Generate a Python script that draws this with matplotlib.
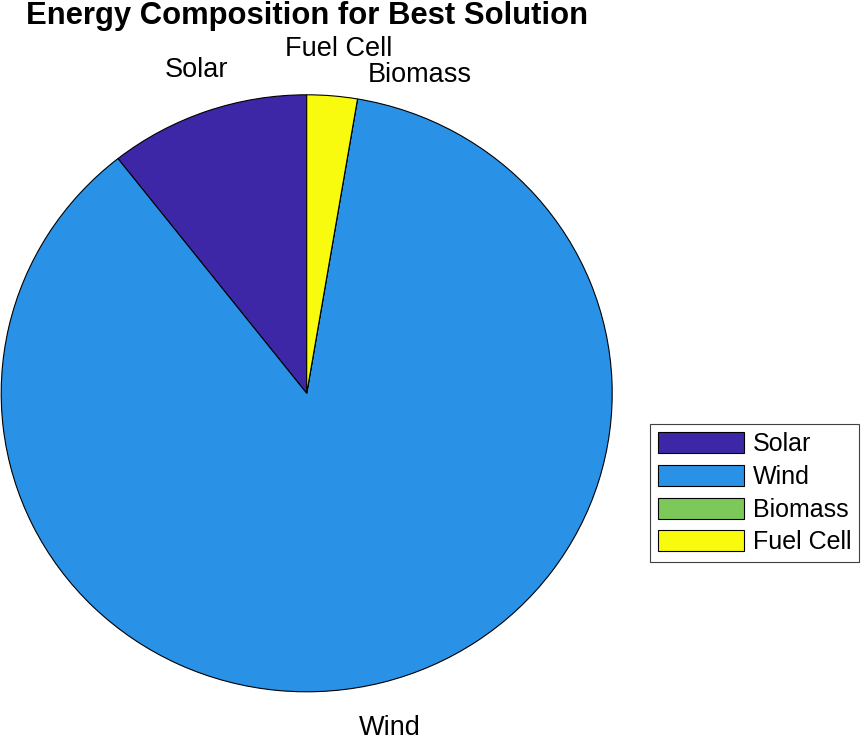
import numpy as np
import matplotlib.pyplot as plt

# === Data ===
sources = ["Solar", "Wind", "Biomass", "Fuel Cell"]
shares = [10.6, 86.74, 0.0, 2.66]
colors = ["#3D27A6", "#2A92E6", "#7CC95A", "#F9FB0F"]

# MATLAB moved the crowded labels apart; nudge them the same way
label_nudge = {"Fuel Cell": (0.012, 0.013), "Biomass": (0.186, -0.062),
               "Wind": (0.0, -0.012)}

plt.rcParams["font.family"] = ["Liberation Sans", "DejaVu Sans"]

fig = plt.figure(figsize=(8.61, 7.42), dpi=100)
W, H = 861, 742
cx, cy, rx, ry = 306.7, 393.3, 305.5, 298.5
ax = fig.add_axes([(cx - rx) / W, (H - cy - ry) / H, 2 * rx / W, 2 * ry / H])

wedges, texts = ax.pie(
    shares,
    labels=sources,
    colors=colors,
    startangle=90,
    counterclock=True,
    labeldistance=1.1,
    wedgeprops=dict(edgecolor="black", linewidth=0.8),
    textprops=dict(fontsize=19.5, color="black"),
)
ax.set_aspect("auto")
ax.set_xlim(-1, 1)
ax.set_ylim(-1, 1)

for t in texts:
    x, y = t.get_position()
    name = t.get_text()
    dx, dy = label_nudge.get(name, (0, 0))
    t.set_position((x + dx, y + dy))
    t.set_horizontalalignment("center")
    t.set_verticalalignment("bottom" if y > 0 else "top")

fig.text(307 / W, 1 - 24 / H, "Energy Composition for Best Solution",
         ha="center", va="baseline", fontsize=22.3, fontweight="bold")

leg = ax.legend(
    wedges, sources,
    loc="upper left",
    bbox_to_anchor=(650 / W, 1 - 424.3 / H),
    bbox_transform=fig.transFigure,
    borderaxespad=0,
    fontsize=18,
    handlelength=3.44,
    handleheight=0.92,
    handletextpad=0.35,
    labelspacing=0.34,
    borderpad=0.32,
    fancybox=False,
    framealpha=1,
    edgecolor="#404040",
)
leg.get_frame().set_linewidth(0.8)

fig.savefig("out.png", dpi=100)
